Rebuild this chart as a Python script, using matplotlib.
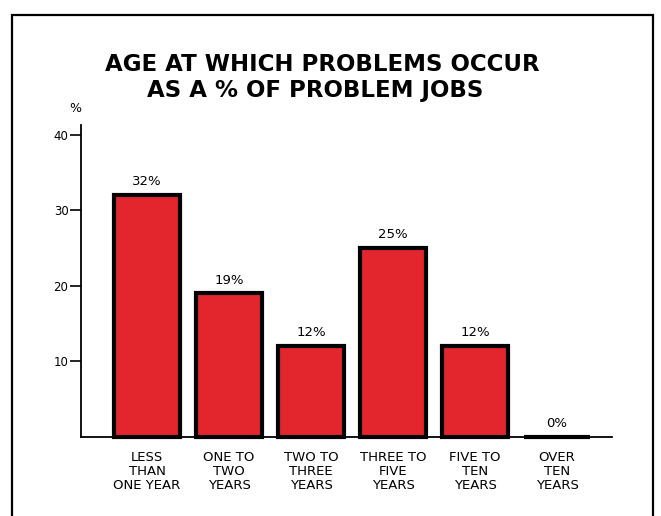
import matplotlib
matplotlib.use("Agg")
import matplotlib.pyplot as plt
from matplotlib.patches import Rectangle

categories = ["LESS\nTHAN\nONE YEAR", "ONE TO\nTWO\nYEARS", "TWO TO\nTHREE\nYEARS",
              "THREE TO\nFIVE\nYEARS", "FIVE TO\nTEN\nYEARS", "OVER\nTEN\nYEARS"]
values = [32, 19, 12, 25, 12, 0]
value_labels = ["32%", "19%", "12%", "25%", "12%", "0%"]
yticks = [10, 20, 30, 40]
title_lines = ["AGE AT WHICH PROBLEMS OCCUR", "AS A % OF PROBLEM JOBS"]

plt.rcParams['font.family'] = ['DejaVu Sans']

W, H = 661, 516
fig = plt.figure(figsize=(W / 100, H / 100), dpi=100)
fig.patch.set_facecolor("white")

# axes placement in pixel terms
left, right, top, base = 81, 612, 125, 437
ax = fig.add_axes([left / W, (H - base) / H, (right - left) / W, (base - top) / H])

x = list(range(len(values)))
bars = ax.bar(x, values, width=0.80, color="#e3262e", edgecolor="black", linewidth=3.0, zorder=3)
for b in bars:
    b.set_clip_on(False)
for xi, v, lab in zip(x, values, value_labels):
    ax.annotate(lab, (xi, v), xytext=(0, 5), textcoords="offset points",
                ha="center", va="bottom", fontsize=9.5)

ax.set_xlim(-0.805, 5.67)
ax.set_ylim(0, 41.3)
ax.set_yticks(yticks)
ax.set_yticklabels([str(t) for t in yticks], fontsize=8.5)
ax.set_xticks(x)
ax.set_xticklabels(categories, fontsize=9.5, linespacing=1.1)
ax.tick_params(axis="x", length=0, pad=10)
ax.tick_params(axis="y", length=8, width=1.2, direction="out", pad=1)
for s in ["top", "right"]:
    ax.spines[s].set_visible(False)
for s in ["left", "bottom"]:
    ax.spines[s].set_linewidth(1.3)
ax.set_facecolor("none")

fig.text(75 / W, 1 - 109 / H, "%", ha="center", va="center", fontsize=9)
fig.text(322 / W, 1 - 71 / H, title_lines[0], ha="center", va="baseline", fontsize=16.5,
         fontweight="bold")
fig.text(315 / W, 1 - 97 / H, title_lines[1], ha="center", va="baseline", fontsize=16.5,
         fontweight="bold")

# outer frame
fig.add_artist(Rectangle((12 / W, -0.05), (653 - 12) / W, (H - 15) / H + 0.05,
                         transform=fig.transFigure, fill=False, lw=1.6, edgecolor="black"))

fig.savefig("out.png", dpi=100)
